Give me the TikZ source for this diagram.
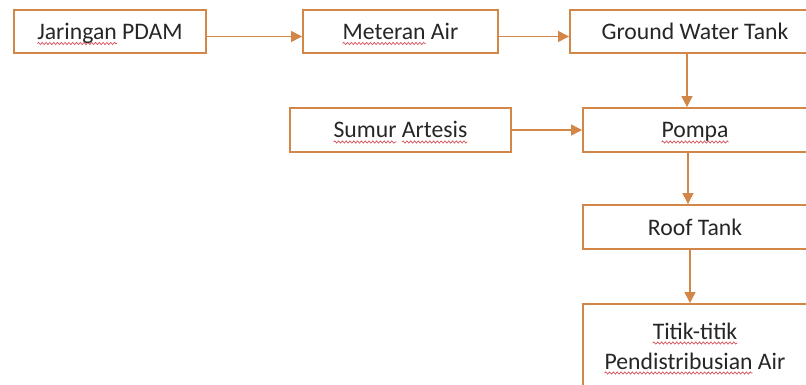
\documentclass[tikz,border=0pt]{standalone}
\usepackage{fontspec}
\setmainfont{Carlito}
\usetikzlibrary{arrows.meta,decorations.pathmorphing}
\definecolor{boxorange}{RGB}{210,134,72}
\definecolor{spellred}{RGB}{214,80,90}

\newsavebox{\spellbox}
\newlength{\spellwd}
\newcommand{\spell}[1]{\sbox{\spellbox}{#1}\setlength{\spellwd}{\wd\spellbox}\rlap{\tikz[overlay,baseline=0pt]\draw[spellred,line width=0.7pt,decorate,decoration={snake,amplitude=1.1pt,segment length=3.8pt}] (0pt,-4pt) -- (\spellwd,-4pt);}\usebox{\spellbox}}

\begin{document}
\begin{tikzpicture}[auto,node distance=98.5pt,
	water node/.style={rectangle,draw=boxorange,line width=1.9pt,text=black!85,font=\fontsize{23.7}{30}\selectfont,align=center,inner sep=0pt,minimum height=43pt,text height=21pt,text depth=5pt},
	flow/.style={draw,color=boxorange,line width=1.3pt,-{Triangle[length=11pt,width=11pt]}}]

			\path[use as bounding box,clip] (0pt,0pt) rectangle (806pt,-385pt);

			\node[water node,minimum width=192pt] (1) at (110pt,-31.5pt) {\spell{Jaringan} PDAM};
			\node[water node,minimum width=195pt] (2) [node distance=290.5pt,right of=1] {\spell{Meteran} Air};
			\node[water node,minimum width=250pt] (3) [node distance=294.5pt,right of=2] {Ground Water Tank};

			\node[water node,minimum width=221pt,minimum height=44pt] (4) [below of=2] {\spell{Sumur} \spell{Artesis}};
			\node[water node,minimum width=224pt,minimum height=44pt] (5) [below of=3] {\spell{Pompa}};
			\node[water node,minimum width=224pt,minimum height=44pt] (6) [node distance=97pt,below of=5] {Roof Tank};
			\node[water node,minimum width=224pt,minimum height=84pt,text height=51pt] (7) [node distance=119pt,below of=6] {\spell{Titik-titik}\\\spell{Pendistribusian} Air};

			\path[every edge/.style={flow}]
			([yshift=-5pt]1.east) edge ([yshift=-5pt]2.west)
			([yshift=-5pt]2.east) edge ([yshift=-5pt]3.west)
			(4) edge (5)
			([xshift=-8pt]3.south) edge ([xshift=-8pt]5.north)
			([xshift=-7pt]5.south) edge ([xshift=-7pt]6.north)
			([xshift=-5pt]6.south) edge ([xshift=-5pt]7.north);
		\end{tikzpicture}
\end{document}
